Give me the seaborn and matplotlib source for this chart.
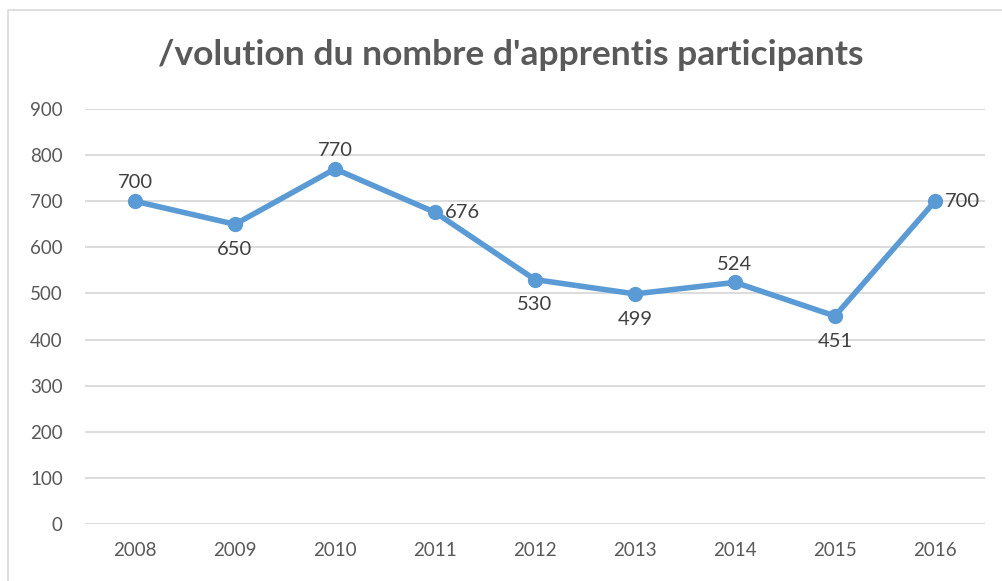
import matplotlib
matplotlib.use("Agg")
import matplotlib.pyplot as plt
import matplotlib.patches as mpatches
import pandas as pd
import seaborn as sns

# data
years = ["2008", "2009", "2010", "2011", "2012", "2013", "2014", "2015", "2016"]
apprentis = [700, 650, 770, 676, 530, 499, 524, 451, 700]
# where each data label sits relative to its point
label_pos = ["above", "below", "above", "right", "below", "below", "above", "below", "right"]
yticks = [0, 100, 200, 300, 400, 500, 600, 700, 800, 900]

sns.set_theme(style="white")
plt.rcParams["font.family"] = ["Lato", "DejaVu Sans"]

df = pd.DataFrame({"annee": years, "nb": apprentis})
df["pos"] = range(len(df))

fig = plt.figure(figsize=(10.03, 5.81), dpi=100)
ax = fig.add_axes([85 / 1003, 57 / 581, 900 / 1003, 415 / 581])

# light frame of the chart area
fig.patches.append(mpatches.Rectangle((8 / 1003, -0.05), 1.1, (571 / 581) + 0.05,
                                      transform=fig.transFigure, fill=False,
                                      edgecolor="#D9D9D9", linewidth=1.2))

for y in yticks:
    ax.axhline(y, color="#D9D9D9", linewidth=1.3, zorder=0)

sns.lineplot(data=df, x="pos", y="nb", ax=ax, color="#5B9BD5", linewidth=4,
             marker="o", markersize=11, markeredgewidth=0, zorder=3)

grey = "#404040"
for i, (v, p) in enumerate(zip(apprentis, label_pos)):
    if p == "above":
        ax.annotate(str(v), (i, v), xytext=(0, 7), textcoords="offset points",
                    ha="center", va="bottom", fontsize=14.5, color=grey)
    elif p == "below":
        ax.annotate(str(v), (i, v), xytext=(0, -12), textcoords="offset points",
                    ha="center", va="top", fontsize=14.5, color=grey)
    else:
        ax.annotate(str(v), (i, v), xytext=(7, 0), textcoords="offset points",
                    ha="left", va="center", fontsize=14.5, color=grey)

ax.set_xlim(-0.5, len(years) - 0.5)
ax.set_ylim(0, 900)
ax.set_xticks(range(len(years)))
ax.set_xticklabels(years)
ax.set_yticks(yticks)
ax.tick_params(axis="both", length=0, labelsize=13.5, labelcolor="#595959")
ax.tick_params(axis="x", pad=13)
ax.tick_params(axis="y", pad=16)
ax.set_xlabel("")
ax.set_ylabel("")
for s in ax.spines.values():
    s.set_visible(False)

fig.text(511 / 1003, 1 - 55 / 581, "/volution du nombre d'apprentis participants",
         ha="center", va="center", fontsize=25.5, fontweight="bold", color="#595959")

fig.savefig("out.png", dpi=100)
